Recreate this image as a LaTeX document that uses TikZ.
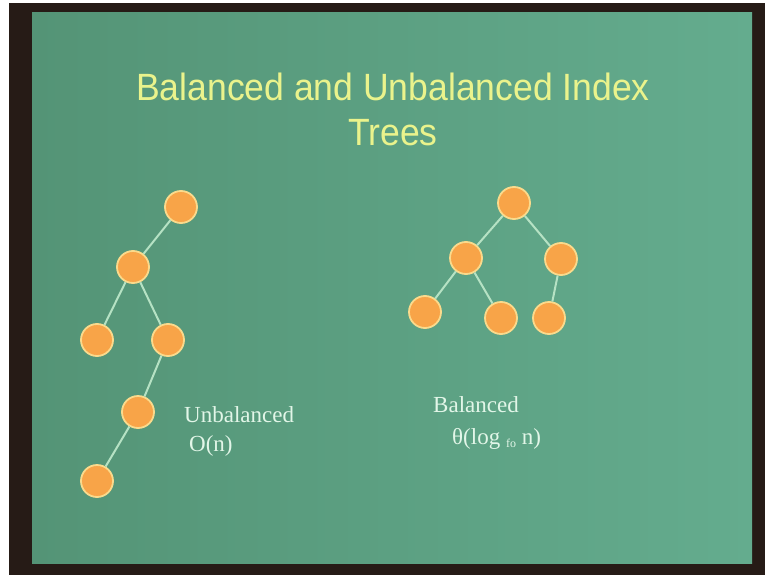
\documentclass[tikz,border=0pt]{standalone}
\usepackage{fontspec}
\setmainfont{Liberation Serif}
\newfontfamily\slidesans{Liberation Sans}
\definecolor{frame}{RGB}{38,27,22}
\definecolor{boardL}{RGB}{84,148,118}
\definecolor{boardM}{RGB}{106,177,147}
\definecolor{boardR}{RGB}{100,172,142}
\definecolor{titlecol}{RGB}{234,243,140}
\definecolor{nodeorange}{RGB}{248,164,72}
\definecolor{noderim}{RGB}{250,218,140}
\definecolor{twigcol}{RGB}{182,226,196}
\definecolor{chalk}{RGB}{226,246,232}
\tikzset{knot/.style={circle,fill=nodeorange,draw=noderim,line width=1.8pt,minimum size=32pt,inner sep=0pt},
  twig/.style={draw=twigcol,line width=2pt},
  slidetitle/.style={text=titlecol,font=\slidesans\fontsize{38}{44}\selectfont,anchor=base,inner sep=0pt,xscale=.935},
  caption/.style={text=chalk,font=\fontsize{23}{27}\selectfont,anchor=base west,inner sep=0pt}}
\begin{document}
\begin{tikzpicture}[x=1pt,y=-1pt]
\useasboundingbox(0,0)rectangle(765,575);
\fill[white](0,0)rectangle(765,575);
\fill[frame](9,3)rectangle(765,575);
\shade[left color=boardL,middle color=boardM,right color=boardR](32,13)rectangle(752,563);
\node[slidetitle](ttl)at(393,101){Balanced and Unbalanced Index};
\node[slidetitle](ttl2)at(393,146){Trees};
% unbalanced tree
\foreach\n/\x/\y in{u1/181/207,u2/133/267,u3/97/340,u4/168/340,u5/138/412,u6/97/481}{\node[knot](\n)at(\x,\y){};}
\foreach\a/\b in{u1/u2,u2/u3,u2/u4,u4/u5,u5/u6}{\draw[twig](\a)--(\b);}
% balanced tree
\foreach\n/\x/\y in{b1/514/203,b2/466/258,b3/561/259,b4/425/312,b5/501/318,b6/549/318}{\node[knot](\n)at(\x,\y){};}
\foreach\a/\b in{b1/b2,b1/b3,b2/b4,b2/b5,b3/b6}{\draw[twig](\a)--(\b);}
\node[caption](ulab)at(184,422){Unbalanced};
\node[caption](ucost)at(189,451){O(n)};
\node[caption](blab)at(433,412){Balanced};
\node[caption](bcost)at(452,444){θ(log {\fontsize{12}{12}\selectfont\raisebox{-.7ex}{fo}} n)};
\end{tikzpicture}
\end{document}
